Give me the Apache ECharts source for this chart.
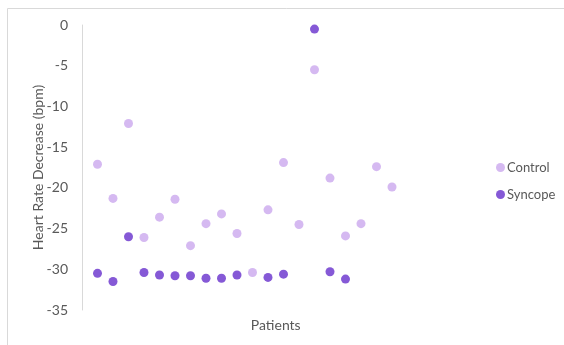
<!DOCTYPE html>
<html>
<head>
<meta charset="utf-8">
<script src="https://cdn.jsdelivr.net/npm/echarts@6/dist/echarts.min.js"></script>
<style>
  html, body { margin: 0; padding: 0; background: #fff; }
  #chart { width: 564px; height: 345px; }
</style>
</head>
<body>
<div id="chart"></div>
<script>
// Patient number on the x axis (1..20)
var patients = [1, 2, 3, 4, 5, 6, 7, 8, 9, 10, 11, 12, 13, 14, 15, 16, 17, 18, 19, 20];
var controlValues = [-17.1, -21.3, -12.1, -26.1, -23.6, -21.4, -27.1, -24.4, -23.2, -25.6,
                     -30.4, -22.7, -16.9, -24.5, -5.5, -18.8, -25.9, -24.4, -17.4, -19.9];
// null = no syncope point for that patient
var syncopeValues = [-30.5, -31.5, -26.0, -30.4, -30.7, -30.8, -30.8, -31.1, -31.1, -30.7,
                     null, -31.0, -30.6, null, -0.5, -30.3, -31.2, null, null, null];
var yTicks = [0, -5, -10, -15, -20, -25, -30, -35];

function toPairs(vals) {
    var out = [];
    for (var i = 0; i < vals.length; i++) {
        if (vals[i] !== null) out.push([patients[i], vals[i]]);
    }
    return out;
}

var chart = echarts.init(document.getElementById('chart'));
var textColor = '#595959';
chart.setOption({
    animation: false,
    textStyle: { fontFamily: 'Lato, sans-serif' },
    graphic: [{
        type: 'rect',
        shape: { x: 7.5, y: 8.5, width: 600, height: 400 },
        style: { fill: 'none', stroke: '#d9d9d9', lineWidth: 1 },
        silent: true
    }],
    grid: { left: 82, right: 94.5, top: 25, bottom: 35 },
    legend: {
        orient: 'vertical',
        left: 491,
        top: 156,
        itemWidth: 9,
        itemHeight: 9,
        itemGap: 14,
        icon: 'circle',
        textStyle: { color: textColor, fontSize: 13, padding: [0, 0, 0, -3] },
        data: ['Control', 'Syncope']
    },
    xAxis: {
        type: 'value',
        min: 0,
        max: 25,
        name: 'Patients',
        nameLocation: 'middle',
        nameGap: 8,
        nameMoveOverlap: false,
        nameTextStyle: { color: textColor, fontSize: 14 },
        axisLine: { show: false },
        axisTick: { show: false },
        axisLabel: { show: false },
        splitLine: { show: false }
    },
    yAxis: {
        type: 'value',
        min: -35,
        max: 0,
        interval: 5,
        name: 'Heart Rate Decrease (bpm)',
        nameLocation: 'middle',
        nameGap: 37,
        nameMoveOverlap: false,
        nameTextStyle: { color: textColor, fontSize: 14 },
        axisLine: { show: true, lineStyle: { color: '#d9d9d9', width: 1 } },
        axisTick: { show: false },
        axisLabel: {
            color: textColor, fontSize: 14, margin: 14,
            formatter: function (v) { return yTicks.indexOf(v) >= 0 ? String(v) : ''; }
        },
        splitLine: { show: false }
    },
    series: [
        {
            name: 'Control',
            type: 'scatter',
            symbolSize: 9,
            itemStyle: { color: '#cba8ee' },
            data: toPairs(controlValues)
        },
        {
            name: 'Syncope',
            type: 'scatter',
            symbolSize: 9,
            itemStyle: { color: '#6630cc' },
            data: toPairs(syncopeValues)
        }
    ]
});
</script>
</body>
</html>
